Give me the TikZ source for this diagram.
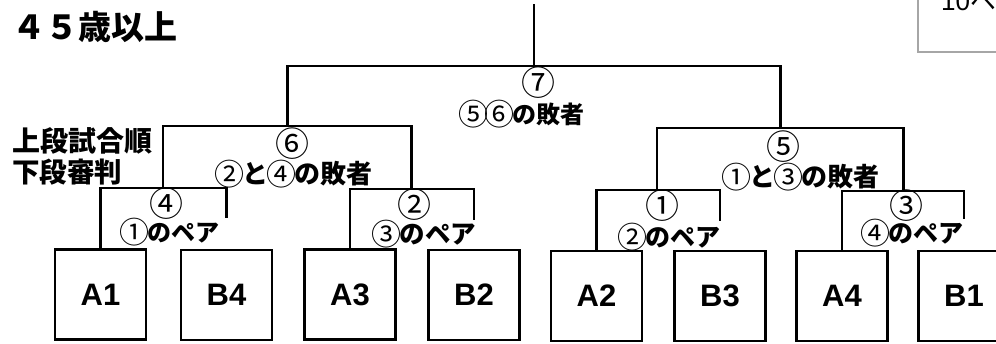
\documentclass[tikz,border=0pt]{standalone}
\usepackage{fontspec}
\setmainfont{Liberation Sans}
\newfontfamily\jp{Noto Sans CJK JP}
\newcommand\cn[1]{\makebox[26pt][c]{\raisebox{-2pt}{\mdseries\fontsize{30}{30}\selectfont #1}}}
\begin{document}
\begin{tikzpicture}[x=1pt,y=-1pt,
  ln/.style={line width=2.6pt, line cap=rect, line join=miter},
  team/.style={draw, line width=2.6pt, minimum width=91pt, minimum height=90pt, inner sep=0pt,
    font=\fontsize{31}{31}\selectfont\bfseries},
  lbl/.style={inner sep=0pt, font=\jp\bfseries\fontsize{24}{24}\selectfont},
  num/.style={inner sep=0pt, font=\jp\fontsize{34}{34}\selectfont},
]
\useasboundingbox (0,0) rectangle (996,344);
\fill[white] (0,0) rectangle (996,344);

% top-right partial box
\draw[black!35, line width=1.4pt] (918,-10) rectangle (1012,52);
\node[anchor=base west, inner sep=0pt, font=\fontsize{26}{26}\selectfont] (ten) at (941,10.5) {10\jp ペア};

% titles
\node[inner sep=0pt, font=\jp\bfseries\fontsize{33}{33}\selectfont] (title) at (95,27) {４５歳以上};
\node[anchor=west, inner sep=0pt, font=\jp\bfseries\fontsize{28}{28}\selectfont] (upper) at (12,141) {上段試合順};
\node[anchor=west, inner sep=0pt, font=\jp\bfseries\fontsize{27.5}{27.5}\selectfont] (lower) at (12,172) {下段審判};

% teams
\node[team] (A1) at (100.5,294.5) {A1};
\node[team] (B4) at (226.5,295) {B4};
\node[team] (A3) at (350,294.5) {A3};
\node[team] (B2) at (474,295) {B2};
\node[team] (A2) at (596.5,296) {A2};
\node[team] (B3) at (720,296) {B3};
\node[team] (A4) at (842,296) {A4};
\node[team] (B1) at (964,296) {B1};

% bracket junctions
\coordinate (m4) at (163,188);
\coordinate (e4) at (226.5,217);
\coordinate (m2) at (411.5,189);
\coordinate (e2) at (474,219);
\coordinate (m1) at (657,190);
\coordinate (e1) at (720,220);
\coordinate (m3) at (903.5,191);
\coordinate (e3) at (964,218);
\coordinate (m6) at (287.5,126);
\coordinate (m5) at (780.5,128);
\coordinate (m7) at (534,66);
\coordinate (top) at (534,5);

\draw[ln] (A1.north) |- (m4) -| (e4);
\draw[ln] (A3.north) |- (m2) -| (e2);
\draw[ln] (A2.north) |- (m1) -| (e1);
\draw[ln] (A4.north) |- (m3) -| (e3);
\draw[ln] (m4) |- (m6) -| (m2);
\draw[ln] (m1) |- (m5) -| (m3);
\draw[ln] (m6) |- (m7) -| (m5);
\draw[ln] (m7) -- (top);

% labels
\node[num] (n7) at (538,83) {⑦};
\node[lbl] (l7) at (522,114) {\cn{⑤}\cn{⑥}の敗者};
\node[num] (n6) at (292,144) {⑥};
\node[lbl, font=\jp\bfseries\fontsize{26}{26}\selectfont] (l6) at (294,174) {\cn{②}と\cn{④}の敗者};
\node[num] (n4) at (166,204) {④};
\node[lbl] (l4) at (170,232) {\cn{①}のペア};
\node[num] (n2) at (414,205) {②};
\node[lbl, font=\jp\bfseries\fontsize{25.5}{25.5}\selectfont] (l2) at (425,234) {\cn{③}のペア};
\node[num] (n5) at (783,147) {⑤};
\node[lbl, font=\jp\bfseries\fontsize{26}{26}\selectfont] (l5) at (801,177) {\cn{①}と\cn{③}の敗者};
\node[num] (n1) at (662,206) {①};
\node[lbl, font=\jp\bfseries\fontsize{25}{25}\selectfont] (l1) at (670,237) {\cn{②}のペア};
\node[num] (n3) at (906,206) {③};
\node[lbl, font=\jp\bfseries\fontsize{25}{25}\selectfont] (l3) at (913,233) {\cn{④}のペア};
\end{tikzpicture}
\end{document}
